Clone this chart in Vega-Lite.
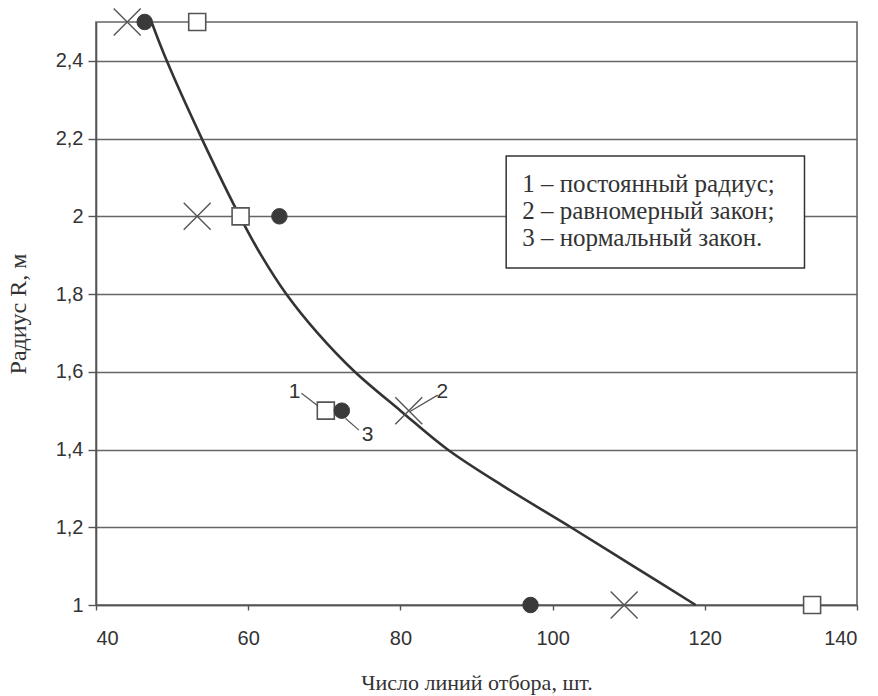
{
  "$schema": "https://vega.github.io/schema/vega-lite/v6.json",
  "autosize": "none",
  "padding": {"left": 96, "top": 22, "right": 21, "bottom": 91},
  "width": 761,
  "height": 583,
  "background": "white",
  "config": {
    "view": {"stroke": "#666", "strokeWidth": 1.6},
    "axis": {
      "labelFont": "Liberation Sans",
      "labelFontSize": 20,
      "labelColor": "#333",
      "titleFont": "Liberation Serif",
      "titleFontSize": 22,
      "titleFontWeight": "normal",
      "titleColor": "#333",
      "domainColor": "#555",
      "domainWidth": 1.6,
      "tickColor": "#555",
      "tickWidth": 1.4,
      "gridColor": "#666",
      "gridWidth": 1.6,
      "gridOpacity": 1
    }
  },
  "datasets": {
    "curve": [
      {"n": 47.3, "r": 2.5},
      {"n": 49.3, "r": 2.4},
      {"n": 53.9, "r": 2.2},
      {"n": 58.9, "r": 2.0},
      {"n": 61.7, "r": 1.9},
      {"n": 65.0, "r": 1.8},
      {"n": 69.1, "r": 1.7},
      {"n": 74.0, "r": 1.6},
      {"n": 80.0, "r": 1.5},
      {"n": 86.2, "r": 1.4},
      {"n": 94.0, "r": 1.3},
      {"n": 102.4, "r": 1.2},
      {"n": 110.6, "r": 1.1},
      {"n": 118.8, "r": 1.0}
    ],
    "points": [
      {"series": "2", "n": 44.1, "r": 2.5},
      {"series": "2", "n": 53.3, "r": 2.0},
      {"series": "2", "n": 81.1, "r": 1.5},
      {"series": "2", "n": 109.4, "r": 1.0},
      {"series": "3", "n": 46.4, "r": 2.5},
      {"series": "3", "n": 64.1, "r": 2.0},
      {"series": "3", "n": 72.3, "r": 1.5},
      {"series": "3", "n": 97.1, "r": 1.0},
      {"series": "1", "n": 53.3, "r": 2.5},
      {"series": "1", "n": 59.0, "r": 2.0},
      {"series": "1", "n": 70.2, "r": 1.5},
      {"series": "1", "n": 134.1, "r": 1.0}
    ],
    "leaders": [
      {"x1": 67.0, "y1": 1.545, "x2": 69.3, "y2": 1.51},
      {"x1": 72.8, "y1": 1.48, "x2": 74.55, "y2": 1.45},
      {"x1": 81.2, "y1": 1.497, "x2": 84.9, "y2": 1.54}
    ],
    "tags": [
      {"t": "1", "n": 66.1, "r": 1.548},
      {"t": "3", "n": 75.7, "r": 1.437},
      {"t": "2", "n": 85.5, "r": 1.548}
    ],
    "box": [
      {"x1": 93.9, "x2": 133.1, "y1": 1.867, "y2": 2.155}
    ],
    "legend": [
      {"t": "1 – постоянный радиус;", "n": 96.0, "r": 2.0834},
      {"t": "2 – равномерный закон;", "n": 96.0, "r": 2.0139},
      {"t": "3 – нормальный закон.", "n": 96.0, "r": 1.9444}
    ]
  },
  "layer": [
    {
      "data": {"name": "box"},
      "mark": {"type": "rect", "fill": "white", "stroke": "#333", "strokeWidth": 1.5},
      "encoding": {
        "x": {
          "field": "x1", "type": "quantitative",
          "scale": {"domain": [40, 140], "nice": false, "zero": false},
          "axis": {
            "title": "Число линий отбора, шт.",
            "values": [40, 60, 80, 100, 120, 140],
            "grid": false,
            "tickSize": 5,
            "labelPadding": 18,
            "titlePadding": 24
          }
        },
        "x2": {"field": "x2"},
        "y": {
          "field": "y1", "type": "quantitative",
          "scale": {"domain": [1, 2.5], "nice": false, "zero": false},
          "axis": {
            "title": "Радиус R, м",
            "titleFontSize": 24,
            "values": [1, 1.2, 1.4, 1.6, 1.8, 2, 2.2, 2.4],
            "labelExpr": "replace(format(datum.value, '.1~f'), '.', ',')",
            "grid": true,
            "tickSize": 8,
            "labelPadding": 5,
            "titlePadding": 25
          }
        },
        "y2": {"field": "y2"}
      }
    },
    {
      "data": {"name": "curve"},
      "mark": {"type": "line", "interpolate": "catmull-rom", "color": "#333", "strokeWidth": 2.6},
      "encoding": {
        "x": {"field": "n", "type": "quantitative"},
        "y": {"field": "r", "type": "quantitative"}
      }
    },
    {
      "data": {"name": "leaders"},
      "mark": {"type": "rule", "color": "#555", "strokeWidth": 1.2},
      "encoding": {
        "x": {"field": "x1", "type": "quantitative"},
        "y": {"field": "y1", "type": "quantitative"},
        "x2": {"field": "x2"},
        "y2": {"field": "y2"}
      }
    },
    {
      "data": {"name": "points"},
      "transform": [{"filter": "datum.series === '2'"}],
      "mark": {"type": "point", "shape": "M-1,-1L1,1M1,-1L-1,1", "filled": false, "stroke": "#555", "strokeWidth": 1.4, "size": 729, "opacity": 1},
      "encoding": {
        "x": {"field": "n", "type": "quantitative"},
        "y": {"field": "r", "type": "quantitative"}
      }
    },
    {
      "data": {"name": "points"},
      "transform": [{"filter": "datum.series === '1'"}],
      "mark": {"type": "point", "shape": "square", "filled": true, "fill": "white", "stroke": "#555", "strokeWidth": 1.6, "size": 289, "opacity": 1},
      "encoding": {
        "x": {"field": "n", "type": "quantitative"},
        "y": {"field": "r", "type": "quantitative"}
      }
    },
    {
      "data": {"name": "points"},
      "transform": [{"filter": "datum.series === '3'"}],
      "mark": {"type": "point", "shape": "circle", "filled": true, "fill": "#3a3a3a", "stroke": "#3a3a3a", "strokeWidth": 1, "size": 240, "opacity": 1},
      "encoding": {
        "x": {"field": "n", "type": "quantitative"},
        "y": {"field": "r", "type": "quantitative"}
      }
    },
    {
      "data": {"name": "tags"},
      "mark": {"type": "text", "font": "Liberation Sans", "fontSize": 21, "color": "#333", "align": "center", "baseline": "middle"},
      "encoding": {
        "x": {"field": "n", "type": "quantitative"},
        "y": {"field": "r", "type": "quantitative"},
        "text": {"field": "t"}
      }
    },
    {
      "data": {"name": "legend"},
      "mark": {"type": "text", "font": "Liberation Serif", "fontSize": 25, "color": "#333", "align": "left", "baseline": "middle"},
      "encoding": {
        "x": {"field": "n", "type": "quantitative"},
        "y": {"field": "r", "type": "quantitative"},
        "text": {"field": "t"}
      }
    }
  ]
}
